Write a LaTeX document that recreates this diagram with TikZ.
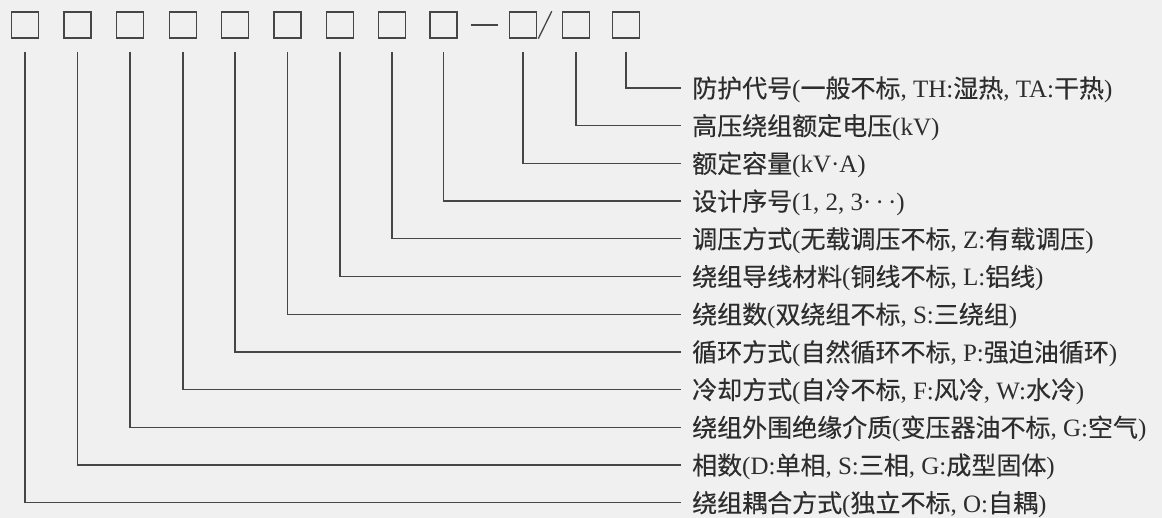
\documentclass[tikz,border=0pt]{standalone}
\usepackage{fontspec}
\setmainfont{Liberation Serif}
\newfontfamily\cj[FakeBold=0.3]{Noto Sans CJK SC}
\definecolor{bgc}{RGB}{240,240,240}
\definecolor{inkc}{RGB}{70,70,70}
\definecolor{txtc}{RGB}{45,45,45}
\begin{document}
\begin{tikzpicture}[x=1pt,y=-1pt,
  codebox/.style={draw=inkc, line width=1.5pt, minimum width=27pt, minimum height=26pt, inner sep=0pt},
  lead/.style={draw=inkc, line width=1.3pt},
  lbl/.style={anchor=west, inner sep=0pt, text=txtc, font=\fontsize{25}{25}\selectfont, text height=20pt, text depth=1pt}]
\fill[bgc] (0,0) rectangle (1162,518);
\useasboundingbox (0,0) rectangle (1162,518);
% code boxes
\node[codebox] (b1) at (25,25) {};
\node[codebox] (b2) at (77.5,25) {};
\node[codebox] (b3) at (130,25) {};
\node[codebox] (b4) at (183,25) {};
\node[codebox] (b5) at (235,25) {};
\node[codebox] (b6) at (287.5,25) {};
\node[codebox] (b7) at (340,25) {};
\node[codebox] (b8) at (392,25) {};
\node[codebox] (b9) at (443.5,25) {};
\node[codebox] (b10) at (523,25) {};
\node[codebox] (b11) at (576,25) {};
\node[codebox] (b12) at (626,25) {};
% dash and slash
\draw[lead] (b9.east) ++(13pt,0) coordinate (d1) -- ++(27pt,0) coordinate (d2);
\draw[lead] ([xshift=1pt]b10.south east) -- ([xshift=-10pt]b11.north west);
% labels
\node[lbl] (L0) at (692,88) {{\cj 防护代号}({\cj 一般不标}, TH:{\cj 湿热}, TA:{\cj 干热})};
\node[lbl] (L1) at (692,125.7) {{\cj 高压绕组额定电压}(kV)};
\node[lbl] (L2) at (692,163.4) {{\cj 额定容量}(kV·A)};
\node[lbl] (L3) at (692,201.1) {{\cj 设计序号}(1, 2, 3·\,·\,·)};
\node[lbl] (L4) at (692,238.8) {{\cj 调压方式}({\cj 无载调压不标}, Z:{\cj 有载调压})};
\node[lbl] (L5) at (692,276.5) {{\cj 绕组导线材料}({\cj 铜线不标}, L:{\cj 铝线})};
\node[lbl] (L6) at (692,314.2) {{\cj 绕组数}({\cj 双绕组不标}, S:{\cj 三绕组})};
\node[lbl] (L7) at (692,351.9) {{\cj 循环方式}({\cj 自然循环不标}, P:{\cj 强迫油循环})};
\node[lbl] (L8) at (692,389.6) {{\cj 冷却方式}({\cj 自冷不标}, F:{\cj 风冷}, W:{\cj 水冷})};
\node[lbl] (L9) at (692,427.3) {{\cj 绕组外围绝缘介质}({\cj 变压器油不标}, G:{\cj 空气})};
\node[lbl] (L10) at (692,465) {{\cj 相数}(D:{\cj 单相}, S:{\cj 三相}, G:{\cj 成型固体})};
\node[lbl] (L11) at (692,502.7) {{\cj 绕组耦合方式}({\cj 独立不标}, O:{\cj 自耦})};
% leader lines
\foreach \b/\l in {b12/L0, b11/L1, b10/L2, b9/L3, b8/L4, b7/L5, b6/L6, b5/L7, b4/L8, b3/L9, b2/L10, b1/L11}
  \draw[lead] ([yshift=-13pt]\b.south) |- ([xshift=-11pt]\l.west);
\end{tikzpicture}
\end{document}
